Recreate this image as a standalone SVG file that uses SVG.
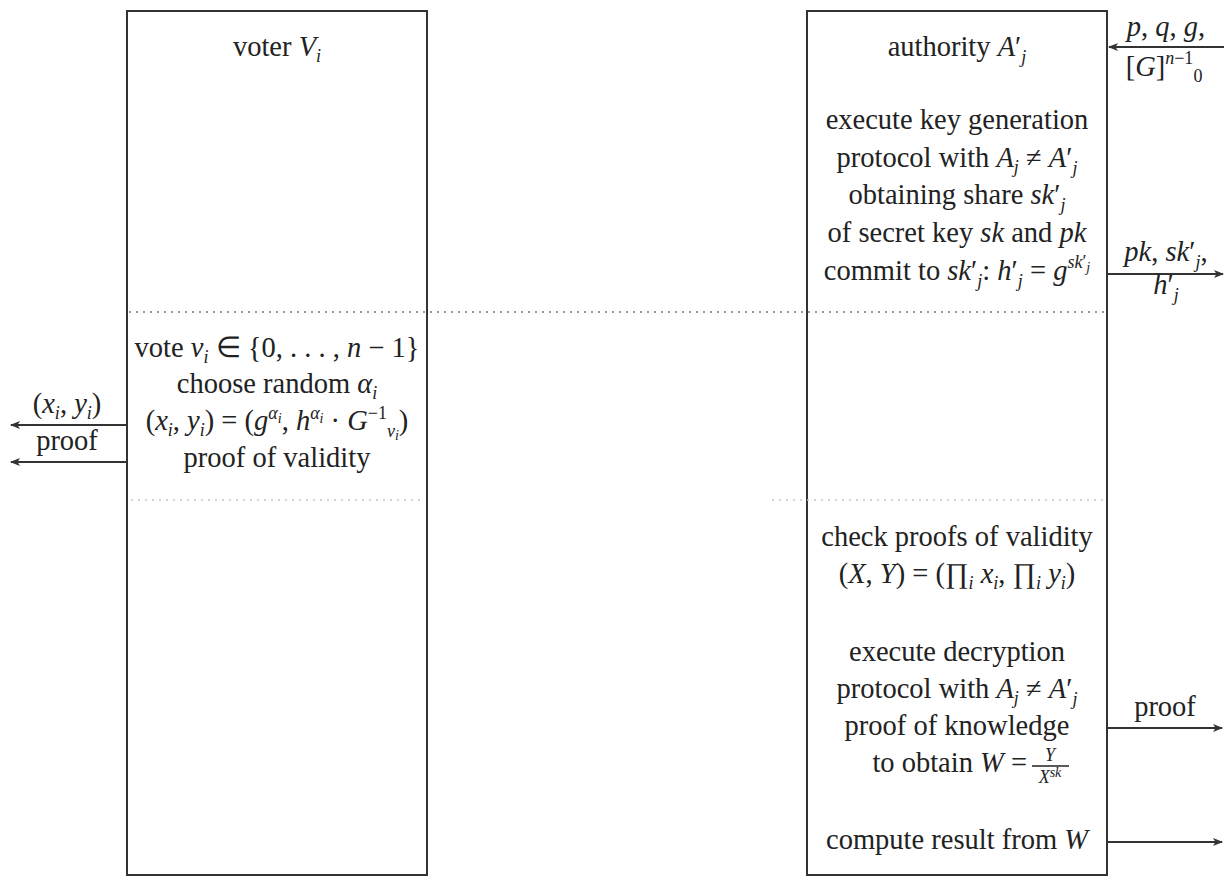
<svg xmlns="http://www.w3.org/2000/svg" width="1232" height="877" viewBox="0 0 1232 877">
<style>
.t{font-family:"Liberation Serif","Times New Roman",serif;font-size:28.5px;fill:#222;text-anchor:middle}
.e{text-anchor:end}
.i{font-style:italic}
.s{font-size:18px}
.xs{font-size:14px}
.box{fill:#fff;stroke:#333;stroke-width:2}
.sep{stroke:#777;stroke-width:1.3;stroke-dasharray:2 5;fill:none}
.sepf{stroke:#c8c8c8;stroke-width:1.3;stroke-dasharray:2 5;fill:none}
.arr{stroke:#333;stroke-width:2;fill:none;marker-end:url(#ah)}
.bar{stroke:#222;stroke-width:1.5}
</style>
<defs>
<marker id="ah" viewBox="0 0 10 8" refX="9" refY="4" markerWidth="5" markerHeight="4" orient="auto" markerUnits="strokeWidth">
<path d="M0,0 L10,4 L0,8 L2.5,4 Z" fill="#333"/>
</marker>
</defs>
<rect width="1232" height="877" fill="#fff"/>

<g id="voter">
<rect class="box" x="127" y="11" width="300" height="864"/>
<text class="t" x="277" y="56">voter <tspan class="i">V</tspan><tspan class="s i" dy="6">i</tspan></text>
<text class="t" x="277" y="357">vote <tspan class="i">v</tspan><tspan class="s i" dy="6">i</tspan><tspan dy="-6"> ∈ {0, . . . , </tspan><tspan class="i">n</tspan> − 1}</text>
<text class="t" x="277" y="393">choose random <tspan class="i">α</tspan><tspan class="s i" dy="6">i</tspan></text>
<text class="t" x="277" y="430">(<tspan class="i">x</tspan><tspan class="s i" dy="6">i</tspan><tspan dy="-6">, </tspan><tspan class="i">y</tspan><tspan class="s i" dy="6">i</tspan><tspan dy="-6">) = (</tspan><tspan class="i">g</tspan><tspan class="s i" dy="-11">α</tspan><tspan class="xs i" dy="4">i</tspan><tspan dy="7">, </tspan><tspan class="i">h</tspan><tspan class="s i" dy="-11">α</tspan><tspan class="xs i" dy="4">i</tspan><tspan dy="7"> · </tspan><tspan class="i">G</tspan><tspan class="s" dy="-11">−1</tspan><tspan class="s i" dy="18">v</tspan><tspan class="xs i" dy="3">i</tspan><tspan dy="-10">)</tspan></text>
<text class="t" x="277" y="467">proof of validity</text>
</g>

<g id="authority">
<rect class="box" x="807" y="11" width="300" height="864"/>
<text class="t" x="957" y="56">authority <tspan class="i">A</tspan>′<tspan class="s i" dy="7">j</tspan></text>
<text class="t" x="957" y="129">execute key generation</text>
<text class="t" x="957" y="167">protocol with <tspan class="i">A</tspan><tspan class="s i" dy="6">j</tspan><tspan dy="-6"> ≠ </tspan><tspan class="i">A</tspan>′<tspan class="s i" dy="7">j</tspan></text>
<text class="t" x="957" y="204">obtaining share <tspan class="i">sk</tspan>′<tspan class="s i" dy="7">j</tspan></text>
<text class="t" x="957" y="242">of secret key <tspan class="i">sk</tspan> and <tspan class="i">pk</tspan></text>
<text class="t" x="957" y="280">commit to <tspan class="i">sk</tspan>′<tspan class="s i" dy="7">j</tspan><tspan dy="-7">: </tspan><tspan class="i">h</tspan>′<tspan class="s i" dy="7">j</tspan><tspan dy="-7"> = </tspan><tspan class="i">g</tspan><tspan class="s i" dy="-12">sk</tspan><tspan class="s">′</tspan><tspan class="xs i" dy="4">j</tspan></text>
<text class="t" x="957" y="546">check proofs of validity</text>
<text class="t" x="957" y="583">(<tspan class="i">X</tspan>, <tspan class="i">Y</tspan>) = (∏<tspan class="s i" dy="6">i</tspan><tspan dy="-6"> </tspan><tspan class="i">x</tspan><tspan class="s i" dy="6">i</tspan><tspan dy="-6">, ∏</tspan><tspan class="s i" dy="6">i</tspan><tspan dy="-6"> </tspan><tspan class="i">y</tspan><tspan class="s i" dy="6">i</tspan><tspan dy="-6">)</tspan></text>
<text class="t" x="957" y="661">execute decryption</text>
<text class="t" x="957" y="698">protocol with <tspan class="i">A</tspan><tspan class="s i" dy="6">j</tspan><tspan dy="-6"> ≠ </tspan><tspan class="i">A</tspan>′<tspan class="s i" dy="7">j</tspan></text>
<text class="t" x="957" y="735">proof of knowledge</text>
<text class="t e" x="1027" y="772">to obtain <tspan class="i">W</tspan> =</text>
<text class="t s i" x="1050" y="761">Y</text>
<line class="bar" x1="1032" y1="766" x2="1069" y2="766"/>
<text class="t s" x="1050" y="783"><tspan class="i">X</tspan><tspan class="xs i" dy="-6">sk</tspan></text>
<text class="t" x="957" y="849">compute result from <tspan class="i">W</tspan></text>
</g>

<g id="separators">
<line class="sep" x1="129" y1="312" x2="1105" y2="312"/>
<line class="sepf" x1="131" y1="500" x2="422" y2="500"/>
<line class="sepf" x1="772" y1="500" x2="1103" y2="500"/>
</g>

<g id="connectors">
<line class="arr" x1="1224" y1="47" x2="1109" y2="47"/>
<text class="t" x="1166" y="36"><tspan class="i">p</tspan>, <tspan class="i">q</tspan>, <tspan class="i">g</tspan>,</text>
<text class="t" x="1164" y="76">[<tspan class="i">G</tspan>]<tspan class="s i" dy="-12">n</tspan><tspan class="s">−1</tspan><tspan class="s" dy="18">0</tspan></text>

<line class="arr" x1="1107" y1="274" x2="1223" y2="274"/>
<text class="t" x="1166" y="261"><tspan class="i">pk</tspan>, <tspan class="i">sk</tspan>′<tspan class="s i" dy="7">j</tspan><tspan dy="-7">,</tspan></text>
<text class="t" x="1166" y="294"><tspan class="i">h</tspan>′<tspan class="s i" dy="7">j</tspan></text>

<line class="arr" x1="127" y1="425" x2="11" y2="425"/>
<text class="t" x="67" y="413">(<tspan class="i">x</tspan><tspan class="s i" dy="6">i</tspan><tspan dy="-6">, </tspan><tspan class="i">y</tspan><tspan class="s i" dy="6">i</tspan><tspan dy="-6">)</tspan></text>
<line class="arr" x1="127" y1="462" x2="11" y2="462"/>
<text class="t" x="67" y="450">proof</text>

<line class="arr" x1="1107" y1="728" x2="1222" y2="728"/>
<text class="t" x="1165" y="716">proof</text>
<line class="arr" x1="1107" y1="842" x2="1222" y2="842"/>
</g>
</svg>
